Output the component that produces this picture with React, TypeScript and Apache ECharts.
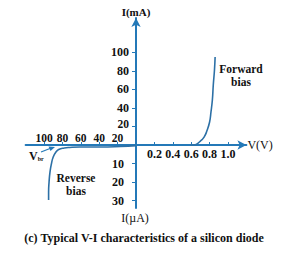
import React, { useEffect, useRef } from 'react';
import * as echarts from 'echarts';

// Forward bias branch: V in volts, I in mA
const forwardV = [0.59, 0.63, 0.7, 0.74, 0.77, 0.8, 0.815, 0.83, 0.84, 0.853, 0.86];
const forwardImA = [0, 0, 4.3, 8.6, 15.1, 24.9, 35.7, 48.6, 64.9, 81.1, 95.1];
// Reverse bias branch: V in volts, I in µA
const reverseV = [0, -17, -39, -61, -72, -78, -84, -87, -90, -92, -93.5, -94.5, -95, -95];
const reverseIuA = [-0.3, -0.8, -1.1, -1.1, -1.3, -1.6, -2.4, -3.8, -6.5, -10.3, -14.6, -20, -25.4, -29.7];
// Tick labels
const forwardVTicks = [0.2, 0.4, 0.6, 0.8, 1.0];
const reverseVTicks = [20, 40, 60, 80, 100];
const forwardITicks = [20, 40, 60, 80, 100];
const reverseITicks = [10, 20, 30];

// one tick step on each half of each axis
const FWD_V_STEP = 0.2;
const REV_V_STEP = 20;
const FWD_I_STEP = 20;
const REV_I_STEP = 10;

const r3 = (v: number) => Math.round(v * 1000) / 1000;
const vToAxis = (v: number) => r3(v >= 0 ? v / FWD_V_STEP : v / REV_V_STEP);
const fwdIToAxis = (i: number) => r3(i / FWD_I_STEP);
const revIToAxis = (i: number) => r3(i / REV_I_STEP);

const AXIS = '#2479b8';
const CURVE = '#2c70a6';
const FONT = '"Liberation Serif", "DejaVu Serif", serif';

// layout of the plotting area
const G_LEFT = 25.6;
const G_WIDTH = 220.8;
const G_TOP = 18;
const G_HEIGHT = 190;
const X_MIN = -6;
const X_MAX = 6;
const Y_MIN = -3.4;
const Y_MAX = 6.86;

export default function App() {
  const ref = useRef<HTMLDivElement>(null);
  useEffect(() => {
    if (!ref.current) return;
    const chart = echarts.init(ref.current, null, { renderer: 'svg' });
    const txt = { fontFamily: FONT, fontWeight: 'bold' as const, fontSize: 11.5, color: '#111' };
    const tick = { ...txt, fontSize: 12 };
    const forwardData = forwardV.map((v, k) => [vToAxis(v), fwdIToAxis(forwardImA[k])]);
    const reverseData = reverseV.map((v, k) => [vToAxis(v), revIToAxis(reverseIuA[k])]);
    const xPos = forwardVTicks.map(vToAxis);
    const xNeg = reverseVTicks.map((v) => vToAxis(-v));
    const yPos = forwardITicks.map(fwdIToAxis);
    const yNeg = reverseITicks.map((v) => revIToAxis(-v));

    // distance from grid edges to the zero lines (axes are shifted there with offset)
    const zeroY = G_TOP + (Y_MAX / (Y_MAX - Y_MIN)) * G_HEIGHT;
    const zeroX = G_LEFT + ((0 - X_MIN) / (X_MAX - X_MIN)) * G_WIDTH;
    const offBottom = -(G_TOP + G_HEIGHT - zeroY);
    const offTop = -(zeroY - G_TOP);
    const offLeft = -(zeroX - G_LEFT);

    chart.setOption({
      animation: false,
      grid: { left: G_LEFT, width: G_WIDTH, top: G_TOP, height: G_HEIGHT },
      xAxis: [
        {
          type: 'value',
          min: X_MIN,
          max: X_MAX,
          position: 'bottom',
          offset: offBottom,
          splitLine: { show: false },
          axisLine: {
            onZero: false,
            symbol: ['none', 'arrow'],
            symbolSize: [7, 9],
            lineStyle: { color: AXIS, width: 2 },
          },
          axisTick: { customValues: xPos, inside: true, length: 3, lineStyle: { color: AXIS, width: 1 } },
          axisLabel: {
            customValues: xPos,
            margin: 3,
            ...tick,
            formatter: (v: number) => (v * FWD_V_STEP).toFixed(1),
          },
          name: 'V(V)',
          nameLocation: 'end',
          nameGap: 1,
          nameTextStyle: { ...txt, fontWeight: 'normal', fontSize: 12, padding: [6, 0, 0, 0] },
        },
        {
          type: 'value',
          min: X_MIN,
          max: X_MAX,
          position: 'top',
          offset: offTop,
          splitLine: { show: false },
          axisLine: { show: false, onZero: false },
          axisTick: { customValues: xNeg, length: 3, lineStyle: { color: AXIS, width: 1 } },
          axisLabel: {
            customValues: xNeg,
            margin: 1,
            ...tick,
            fontSize: 11.5,
            formatter: (v: number) => String(Math.round(-v * REV_V_STEP)),
          },
        },
      ],
      yAxis: {
        type: 'value',
        min: Y_MIN,
        max: Y_MAX,
        position: 'left',
        offset: offLeft,
        splitLine: { show: false },
        axisLine: {
          onZero: false,
          symbol: ['none', 'arrow'],
          symbolSize: [7, 9],
          lineStyle: { color: AXIS, width: 2 },
        },
        axisTick: { customValues: [...yNeg, ...yPos], length: 4, lineStyle: { color: AXIS, width: 1 } },
        axisLabel: {
          customValues: [...yNeg, ...yPos],
          margin: 7,
          ...tick,
          formatter: (v: number) => {
            if (v < 0) return '{n|' + Math.round(-v * REV_I_STEP) + '}';
            const s = String(Math.round(v * FWD_I_STEP));
            return v === yPos[0] ? '{f|' + s + '}' : s;
          },
          rich: {
            n: { ...tick, padding: [0, 5, 0, 0] },
            f: { ...tick, fontSize: 11.5, padding: [0, 0, 5, 0] },
          },
        },
        name: 'I(mA)',
        nameLocation: 'end',
        nameGap: 1,
        nameTextStyle: { ...txt, fontSize: 11 },
      },
      series: [
        {
          type: 'line',
          name: 'Forward bias',
          data: forwardData,
          smooth: true,
          showSymbol: false,
          lineStyle: { color: CURVE, width: 1.6 },
        },
        {
          type: 'line',
          name: 'Reverse bias',
          data: reverseData,
          smooth: true,
          showSymbol: false,
          lineStyle: { color: CURVE, width: 1.6 },
        },
      ],
      graphic: [
        {
          type: 'text',
          x: 241,
          y: 75,
          style: { text: 'Forward\nbias', ...txt, fill: '#111', align: 'center', verticalAlign: 'middle', lineHeight: 13 },
        },
        {
          type: 'text',
          x: 76,
          y: 184,
          style: { text: 'Reverse\nbias', ...txt, fill: '#111', align: 'center', verticalAlign: 'middle', lineHeight: 13 },
        },
        {
          type: 'text',
          x: 135,
          y: 218,
          style: { text: 'I(µA)', ...txt, fontWeight: 'normal', fontSize: 12, fill: '#111', align: 'center', verticalAlign: 'middle' },
        },
        {
          type: 'text',
          x: 29,
          y: 156,
          style: {
            text: '{v|V}{s|br}',
            align: 'left',
            verticalAlign: 'middle',
            rich: {
              v: { ...txt, fill: '#111', fontSize: 12 },
              s: { ...txt, fill: '#111', fontSize: 6, padding: [6, 0, 0, 0] },
            },
          },
        },
        {
          type: 'line',
          shape: { x1: 41, y1: 152, x2: 50, y2: 148.5 },
          style: { stroke: AXIS, lineWidth: 1.2 },
        },
        {
          type: 'polygon',
          shape: { points: [[55, 147], [48.5, 146.5], [50.5, 151]] },
          style: { fill: AXIS },
        },
        {
          type: 'text',
          x: 144,
          y: 238,
          style: {
            text: '(c) Typical V-I characteristics of a silicon diode',
            ...txt,
            fontSize: 12,
            fill: '#111',
            align: 'center',
            verticalAlign: 'middle',
          },
        },
      ],
    });
    return () => chart.dispose();
  }, []);
  return <div ref={ref} style={{ position: 'fixed', left: 0, top: 0, width: 281, height: 263, background: '#fff' }} />;
}
